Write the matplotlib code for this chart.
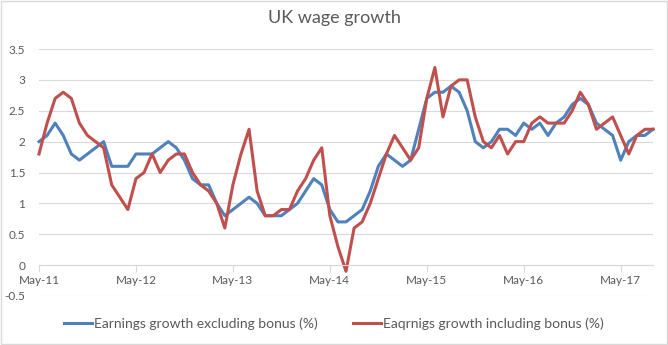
import matplotlib
matplotlib.use('Agg')
import matplotlib.pyplot as plt
import pandas as pd
from matplotlib.patches import Rectangle

# Monthly data, May 2011 to Sep 2017
months = pd.date_range('2011-05-01', periods=77, freq='MS')

excl_bonus = [2.0, 2.1, 2.3, 2.1, 1.8, 1.7, 1.8, 1.9, 2.0, 1.6, 1.6, 1.6,
              1.8, 1.8, 1.8, 1.9, 2.0, 1.9, 1.7, 1.4, 1.3, 1.3, 1.0, 0.8,
              0.9, 1.0, 1.1, 1.0, 0.8, 0.8, 0.8, 0.9, 1.0, 1.2, 1.4, 1.3,
              0.9, 0.7, 0.7, 0.8, 0.9, 1.2, 1.6, 1.8, 1.7, 1.6, 1.7, 2.2,
              2.7, 2.8, 2.8, 2.9, 2.8, 2.5, 2.0, 1.9, 2.0, 2.2, 2.2, 2.1,
              2.3, 2.2, 2.3, 2.1, 2.3, 2.4, 2.6, 2.7, 2.6, 2.3, 2.2, 2.1,
              1.7, 2.0, 2.1, 2.1, 2.2]

incl_bonus = [1.8, 2.3, 2.7, 2.8, 2.7, 2.3, 2.1, 2.0, 1.9, 1.3, 1.1, 0.9,
              1.4, 1.5, 1.8, 1.5, 1.7, 1.8, 1.8, 1.5, 1.3, 1.2, 1.0, 0.6,
              1.3, 1.8, 2.2, 1.2, 0.8, 0.8, 0.9, 0.9, 1.2, 1.4, 1.7, 1.9,
              0.8, 0.3, -0.1, 0.6, 0.7, 1.0, 1.4, 1.8, 2.1, 1.9, 1.7, 1.9,
              2.7, 3.2, 2.4, 2.9, 3.0, 3.0, 2.4, 2.0, 1.9, 2.1, 1.8, 2.0,
              2.0, 2.3, 2.4, 2.3, 2.3, 2.3, 2.5, 2.8, 2.6, 2.2, 2.3, 2.4,
              2.1, 1.8, 2.1, 2.2, 2.2]

y_ticks = [-0.5, 0, 0.5, 1, 1.5, 2, 2.5, 3, 3.5]

plt.rcParams['font.family'] = ['Lato', 'DejaVu Sans']
text_col = '#595959'
grid_col = '#D9D9D9'

fig = plt.figure(figsize=(6.68, 3.45), dpi=100)
ax = fig.add_axes([39 / 668, 49 / 345, 614 / 668, 247 / 345])

x = list(range(len(months)))
ax.plot(x, excl_bonus, color='#4F81BD', lw=2.2, clip_on=False,
        label='Earnings growth excluding bonus (%)')
ax.plot(x, incl_bonus, color='#C0504D', lw=2.2, clip_on=False,
        label='Eaqrnigs growth including bonus (%)')

ax.set_xlim(0, len(months) - 1)
ax.set_ylim(-0.5, 3.5)

# x axis crosses at zero, yearly ticks every May
ax.spines['bottom'].set_position(('data', 0))
ax.spines['bottom'].set_color(grid_col)
for s in ['top', 'right', 'left']:
    ax.spines[s].set_visible(False)

tick_pos = x[::12]
ax.set_xticks(tick_pos)
ax.set_xticklabels([months[i].strftime('%b-%y') for i in tick_pos])
ax.tick_params(axis='x', direction='out', length=5, color=grid_col,
               labelsize=8.5, labelcolor=text_col, pad=2)

ax.set_yticks(y_ticks)
ax.set_yticklabels([f'{v:g}' for v in y_ticks])
ax.tick_params(axis='y', length=0, labelsize=8.5, labelcolor=text_col, pad=10)
ax.yaxis.grid(True, color=grid_col, lw=0.8)
ax.set_axisbelow(True)

fig.text(0.5, 1 - 18 / 345, 'UK wage growth', ha='center', va='center',
         fontsize=13, color=text_col)

fig.legend(loc='center', bbox_to_anchor=(0.5, 1 - 324 / 345), ncol=2,
           frameon=False, fontsize=10, labelcolor=text_col,
           handlelength=2.0, columnspacing=2.5, handletextpad=0.2)

# light chart border
fig.patches.append(Rectangle((0.001, 0.002), 0.997, 0.995, transform=fig.transFigure,
                             fill=False, edgecolor=grid_col, lw=1))

plt.savefig('out.png', dpi=100)
